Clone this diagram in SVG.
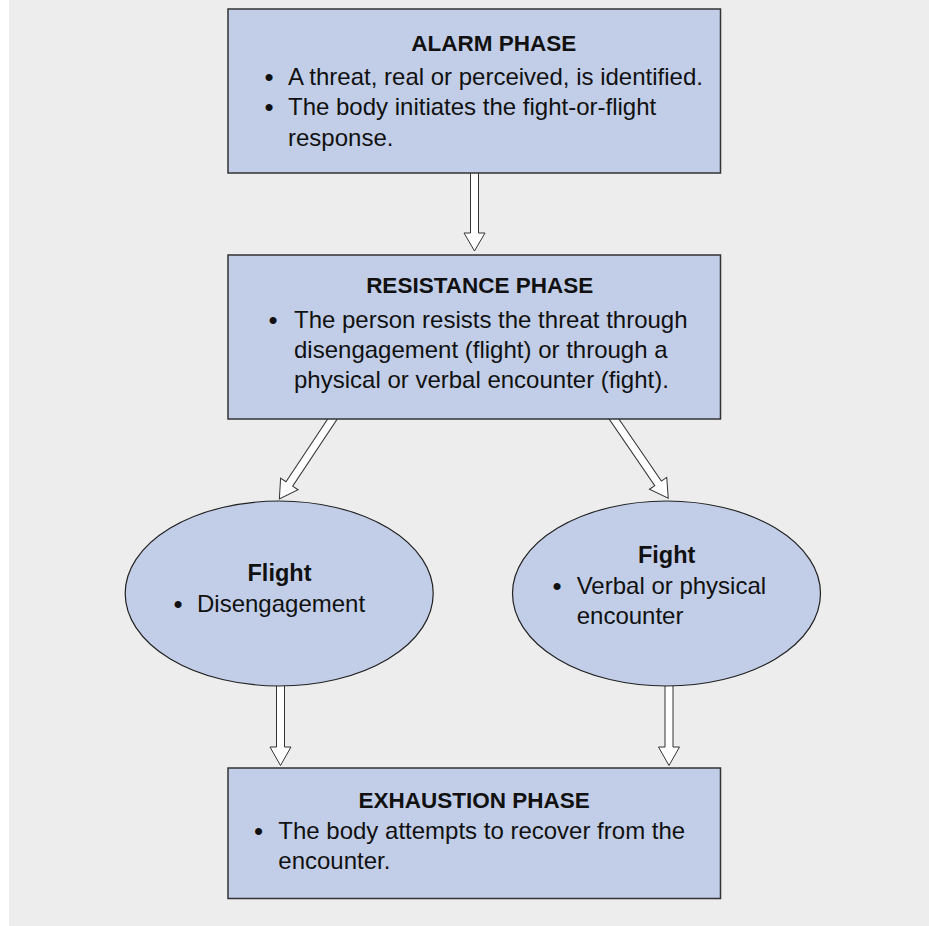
<svg xmlns="http://www.w3.org/2000/svg" width="929" height="926" viewBox="0 0 929 926">
<style>
.bg{fill:#ededed}
.box{fill:#c2cee8;stroke:#333;stroke-width:1.5}
.ell{fill:#c2cee8;stroke:#222;stroke-width:1.2}
.arr{fill:#fff;stroke:#333;stroke-width:1;stroke-linejoin:miter}
.t{font-family:"Liberation Sans",Arial,sans-serif;font-size:24px;fill:#111}
.h{font-family:"Liberation Sans",Arial,sans-serif;font-size:22.5px;font-weight:bold;fill:#111;text-anchor:middle}
.hb{font-family:"Liberation Sans",Arial,sans-serif;font-size:23.5px;font-weight:bold;fill:#111;text-anchor:middle}
.b{font-family:"Liberation Sans",Arial,sans-serif;font-size:26px;fill:#111;text-anchor:middle}
</style>
<defs>
<polygon id="a78" points="-4,-6 4,-6 4,60 10.5,60 0,78 -10.5,60 -4,60"/>
<polygon id="a96" points="-4,-10 4,-10 4,78 10.5,78 0,96 -10.5,78 -4,78"/>
</defs>
<rect class="bg" x="9" y="0" width="920" height="926"/>
<g id="connectors">
<use href="#a78" class="arr" x="474.5" y="173"/>
<use href="#a96" class="arr" transform="translate(332.5,419) rotate(33.6)"/>
<use href="#a96" class="arr" transform="translate(614,419) rotate(-34.4)"/>
<polygon class="arr" points="276.5,684 284.5,684 284.5,747 291,747 280.5,765.5 270,747 276.5,747"/>
<polygon class="arr" points="665,684 673,684 673,747 679.5,747 669,765.5 658.5,747 665,747"/>
</g>
<g id="alarm">
<rect class="box" x="228" y="9" width="492.5" height="164"/>
<text class="h" x="493.7" y="51">ALARM PHASE</text>
<text class="b" x="269" y="86">•</text>
<text class="t" x="288" y="85">A threat, real or perceived, is identified.</text>
<text class="b" x="269" y="116">•</text>
<text class="t" x="288" y="115">The body initiates the fight-or-flight</text>
<text class="t" x="288" y="146">response.</text>
</g>
<g id="resistance">
<rect class="box" x="228" y="255" width="492.5" height="164"/>
<text class="h" x="479.7" y="293">RESISTANCE PHASE</text>
<text class="b" x="273" y="329">•</text>
<text class="t" x="294" y="328">The person resists the threat through</text>
<text class="t" x="294" y="358">disengagement (flight) or through a</text>
<text class="t" x="294" y="388">physical or verbal encounter (fight).</text>
</g>
<g id="flight">
<ellipse class="ell" cx="279.2" cy="593.5" rx="154" ry="92.5"/>
<text class="hb" x="279.5" y="581">Flight</text>
<text class="b" x="178" y="612.5">•</text>
<text class="t" x="197" y="611.5">Disengagement</text>
</g>
<g id="fight">
<ellipse class="ell" cx="666.5" cy="593.5" rx="154" ry="92.5"/>
<text class="hb" x="666.7" y="563.3">Fight</text>
<text class="b" x="557" y="595">•</text>
<text class="t" x="576.7" y="594">Verbal or physical</text>
<text class="t" x="576.7" y="624.3">encounter</text>
</g>
<g id="exhaustion">
<rect class="box" x="228" y="768" width="492.5" height="130.5"/>
<text class="h" x="474.2" y="807.7">EXHAUSTION PHASE</text>
<text class="b" x="258.5" y="840">•</text>
<text class="t" x="278.3" y="839">The body attempts to recover from the</text>
<text class="t" x="278.3" y="869.3">encounter.</text>
</g>
</svg>
